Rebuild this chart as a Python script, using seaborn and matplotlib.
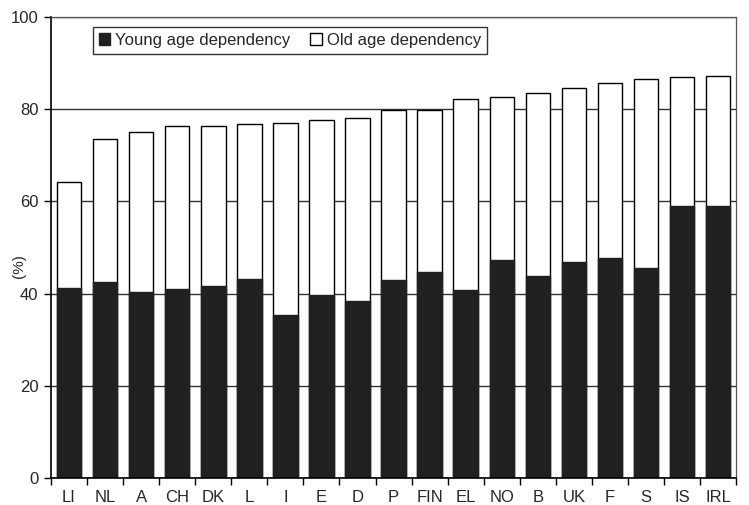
import pandas as pd
import numpy as np
import seaborn as sns
import matplotlib.pyplot as plt
from matplotlib.patches import Patch

countries = ['LI', 'NL', 'A', 'CH', 'DK', 'L', 'I', 'E', 'D', 'P', 'FIN', 'EL', 'NO', 'B', 'UK', 'F', 'S', 'IS', 'IRL']
young = [41.2, 42.5, 40.3, 41.0, 41.7, 43.1, 35.4, 39.6, 38.3, 42.9, 44.7, 40.7, 47.2, 43.8, 46.9, 47.7, 45.5, 59.0, 59.0]
old = [23.1, 31.1, 34.7, 35.4, 34.7, 33.6, 41.6, 38.0, 39.7, 36.9, 35.2, 41.6, 35.5, 39.8, 37.6, 38.0, 41.1, 28.0, 28.2]

df = pd.DataFrame({'country': countries, 'young': young, 'old': old})
df['total'] = df['young'] + df['old']

sns.set_style('white')
plt.rcParams['font.family'] = ['Liberation Sans', 'DejaVu Sans']

fig = plt.figure(figsize=(7.49, 5.05), dpi=100)
ax = fig.add_axes([0.068, 0.0535, 0.915, 0.913])

sns.barplot(x='country', y='total', data=df, color='white', edgecolor='black', linewidth=1.0, width=0.68, ax=ax, saturation=1)
sns.barplot(x='country', y='young', data=df, color='#202020', edgecolor='#202020', linewidth=1.0, width=0.68, ax=ax, saturation=1)

ax.set_ylim(0, 100)
ax.set_xlim(-0.5, len(countries) - 0.5)
ax.set_yticks([0, 20, 40, 60, 80, 100])
ax.yaxis.grid(True, color='#333333', linewidth=1.0)
ax.set_axisbelow(True)
ax.set_xlabel('')
ax.set_ylabel('(%)', fontsize=11)
ax.yaxis.set_label_coords(-0.036, 0.46)

ax.tick_params(axis='y', direction='out', length=5, width=1, labelsize=12, color='black', left=True, pad=4)
ax.tick_params(axis='x', which='major', length=0, labelsize=12, pad=9)
ax.set_xticks(np.arange(len(countries) + 1) - 0.5, minor=True)
ax.tick_params(axis='x', which='minor', direction='out', length=5, width=1, color='black', bottom=True)

for s in ['left', 'bottom']:
    ax.spines[s].set_color('black')
    ax.spines[s].set_linewidth(1.2)
for s in ['top', 'right']:
    ax.spines[s].set_color('#555555')
    ax.spines[s].set_linewidth(0.9)

handles = [Patch(facecolor='#202020', edgecolor='#202020', label='Young age dependency'),
           Patch(facecolor='white', edgecolor='black', label='Old age dependency')]
leg = ax.legend(handles=handles, ncol=2, loc='upper left', bbox_to_anchor=(0.061, 0.978),
                fontsize=12, frameon=True, fancybox=False, handlelength=0.7, handleheight=0.7,
                handletextpad=0.3, columnspacing=1.2, borderpad=0.35, borderaxespad=0)
leg.get_frame().set_edgecolor('black')
leg.get_frame().set_linewidth(1.0)

plt.savefig('out.png', dpi=100)
